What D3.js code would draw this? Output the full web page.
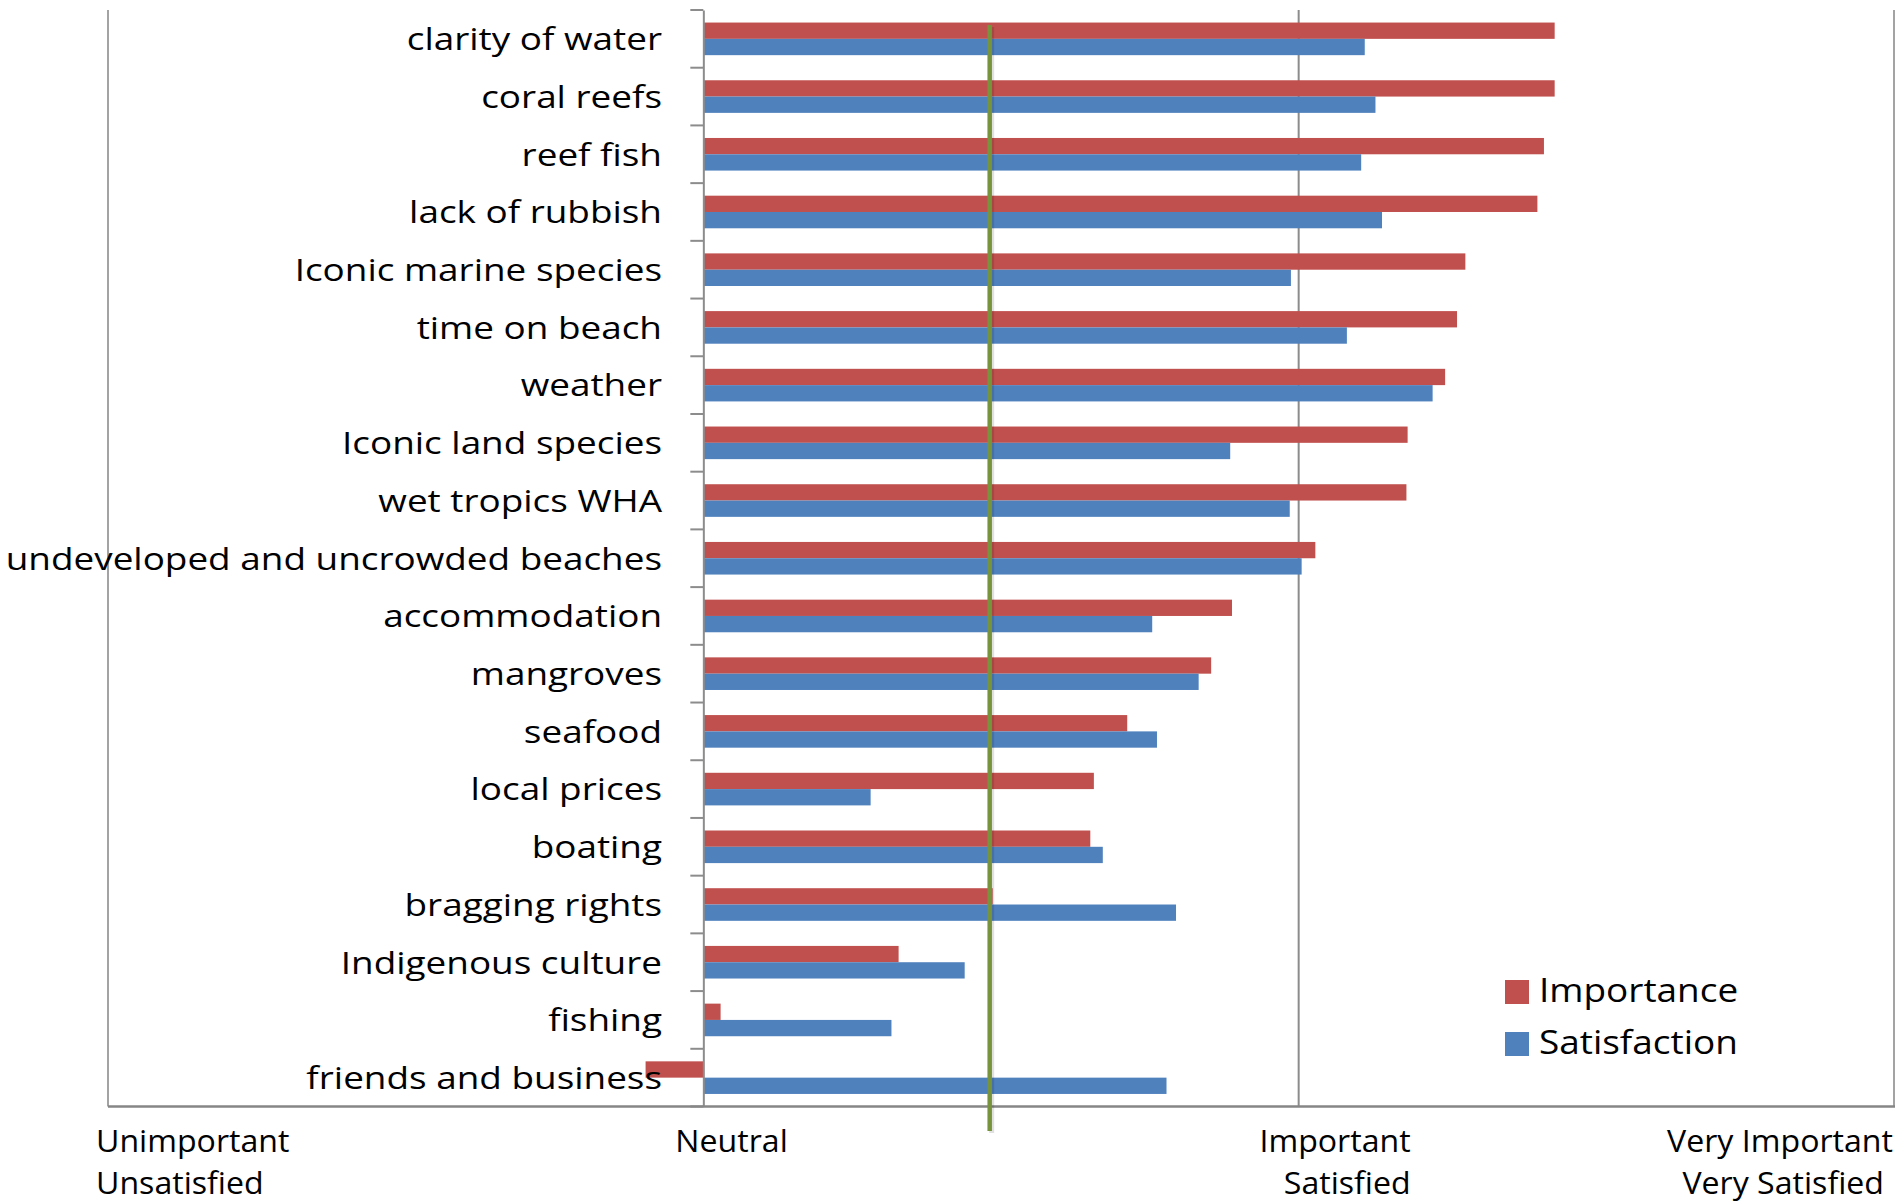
<!DOCTYPE html>
<html>
<head>
<meta charset="utf-8">
<script src="https://cdn.jsdelivr.net/npm/d3@7"></script>
<style>
  html, body { margin: 0; padding: 0; background: #fff; }
  svg { display: block; }
  text { font-family: "Open Sans", "Noto Sans", sans-serif; fill: #000; }
</style>
</head>
<body>
<script>
// ---- data ----
const categories = [
  "clarity of water", "coral reefs", "reef fish", "lack of rubbish",
  "Iconic marine species", "time on beach", "weather", "Iconic land species",
  "wet tropics WHA", "undeveloped and uncrowded beaches", "accommodation",
  "mangroves", "seafood", "local prices", "boating", "bragging rights",
  "Indigenous culture", "fishing", "friends and business"
];
const importance = [1.430, 1.430, 1.412, 1.401, 1.280, 1.266, 1.246, 1.183, 1.181,
  1.028, 0.888, 0.853, 0.712, 0.656, 0.650, 0.486, 0.328, 0.029, -0.097];
const satisfaction = [1.111, 1.129, 1.105, 1.140, 0.987, 1.081, 1.225, 0.885, 0.985,
  1.005, 0.754, 0.832, 0.762, 0.281, 0.671, 0.794, 0.439, 0.316, 0.778];
const seriesNames = ["Importance", "Satisfaction"];
const referenceLine = 0.481;
const tickValues = [-1, 0, 1, 2];
const tickLabelsTop = ["Unimportant", "Neutral", "Important", "Very Important"];
const tickLabelsBottom = ["Unsatisfied", "", "Satisfied", "Very Satisfied"];

// ---- layout ----
const W = 1901, H = 1203;
const plot = { left: 108, right: 1894, top: 10, bottom: 1106.5 };
const colors = { Importance: "#C0504D", Satisfaction: "#4F81BD" };
const SX = 1.19; // horizontal text stretch of the original

const svg = d3.select("body").append("svg").attr("width", W).attr("height", H);

const x = d3.scaleLinear().domain([-1, 2]).range([plot.left, plot.right]);
const y = d3.scaleBand().domain(categories).range([plot.top, plot.bottom])
  .paddingInner(0.435).paddingOuter(0.2175);
const ySub = d3.scaleBand().domain(seriesNames).range([0, y.bandwidth()]).padding(0);
const step = y.step();

// gridlines / borders at -1, 1, 2
svg.append("g").selectAll("line").data([-1, 1, 2]).join("line")
  .attr("x1", d => x(d)).attr("x2", d => x(d))
  .attr("y1", plot.top).attr("y2", plot.bottom)
  .attr("stroke", "#8c8c8c").attr("stroke-width", d => d === 1 ? 2 : 1.6);

// bars
const rows = categories.map((c, i) => ({ c, Importance: importance[i], Satisfaction: satisfaction[i] }));
const g = svg.append("g");
seriesNames.forEach(s => {
  g.selectAll("rect." + s).data(rows).join("rect")
    .attr("class", s)
    .attr("x", d => x(Math.min(0, d[s])))
    .attr("width", d => Math.abs(x(d[s]) - x(0)))
    .attr("y", d => y(d.c) + ySub(s))
    .attr("height", ySub.bandwidth())
    .attr("fill", colors[s]);
});

// category axis at zero
const yAxis = d3.axisLeft(y).tickSize(0).tickFormat("");
svg.append("g").attr("transform", `translate(${x(0)},0)`).call(yAxis)
  .call(a => a.select(".domain").attr("stroke", "#8c8c8c").attr("stroke-width", 2));
// ticks at category boundaries
svg.append("g").selectAll("line").data(d3.range(categories.length + 1)).join("line")
  .attr("x1", x(0) - 13).attr("x2", x(0))
  .attr("y1", i => plot.top + i * step).attr("y2", i => plot.top + i * step)
  .attr("stroke", "#8c8c8c").attr("stroke-width", 2);

// bottom axis line
svg.append("line").attr("x1", plot.left).attr("x2", plot.right + 1)
  .attr("y1", plot.bottom).attr("y2", plot.bottom)
  .attr("stroke", "#868686").attr("stroke-width", 2.5);

// reference (green) line with faint shadow
svg.append("line").attr("x1", x(referenceLine) + 2).attr("x2", x(referenceLine) + 2)
  .attr("y1", 27).attr("y2", 1133).attr("stroke", "#000").attr("stroke-opacity", 0.12)
  .attr("stroke-width", 5);
svg.append("line").attr("x1", x(referenceLine)).attr("x2", x(referenceLine))
  .attr("y1", 25).attr("y2", 1131).attr("stroke", "#77933C").attr("stroke-width", 4.5);

// category labels
svg.append("g").selectAll("text").data(categories).join("text")
  .attr("transform", d => `translate(662,${y(d) + y.bandwidth() / 2 + 11.3}) scale(${SX},1)`)
  .attr("text-anchor", "end")
  .attr("font-size", 31)
  .text(d => d);

// value axis labels (two lines)
const labelPos = [
  { dx: -12, anchor: "start" }, { dx: -28, anchor: "start" },
  { dx: 112, anchor: "end" }, { dx: -1, anchor: "end" }
];
const tl = svg.append("g").selectAll("g").data(tickValues).join("g");
tl.append("text")
  .attr("transform", (d, i) => `translate(${x(d) + labelPos[i].dx},1151.5) scale(1.02,1)`)
  .attr("text-anchor", (d, i) => labelPos[i].anchor)
  .attr("font-size", 31.5)
  .text((d, i) => tickLabelsTop[i]);
tl.append("text")
  .attr("transform", (d, i) => `translate(${x(d) + labelPos[i].dx - (i === 3 ? 9 : 0)},1193.5) scale(1.02,1)`)
  .attr("text-anchor", (d, i) => labelPos[i].anchor)
  .attr("font-size", 31.5)
  .text((d, i) => tickLabelsBottom[i]);

// legend
const lg = svg.append("g").selectAll("g").data(seriesNames).join("g")
  .attr("transform", (d, i) => `translate(1505,${980 + i * 52})`);
lg.append("rect").attr("width", 24).attr("height", 24).attr("fill", d => colors[d]);
lg.append("text").attr("transform", `translate(34,22) scale(1.155,1)`)
  .attr("font-size", 32).text(d => d);
</script>
</body>
</html>
